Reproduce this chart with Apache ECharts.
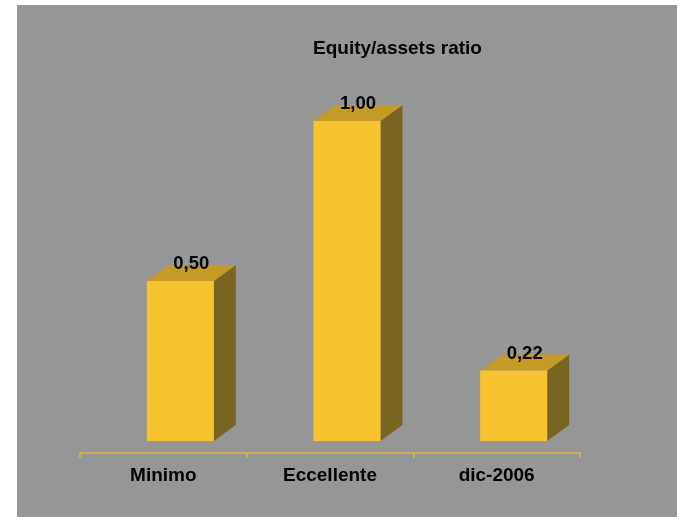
<!DOCTYPE html>
<html>
<head>
<meta charset="utf-8">
<script src="https://cdn.jsdelivr.net/npm/echarts@6/dist/echarts.min.js"></script>
<style>
html,body{margin:0;padding:0;background:#ffffff;}
#chart{width:677px;height:517px;}
</style>
</head>
<body>
<div id="chart"></div>
<script>
const titleText = 'Equity/assets ratio';
const categories = ['Minimo', 'Eccellente', 'dic-2006'];
const values = [0.50, 1.00, 0.22];

const chart = echarts.init(document.getElementById('chart'));
const FONT = 'Liberation Sans, Arial, sans-serif';
const FRONT_COLOR = '#F8C330';
const TOP_COLOR = '#C49B27';
const SIDE_COLOR = '#7A6421';

function renderBar(params, api) {
  const idx = api.value(0);
  const v = api.value(1);
  const base = api.coord([idx, 0]);
  const topPt = api.coord([idx, v]);
  const shiftY = -12;                // floor offset of bars vs axis line
  const w = 67;                      // front face width
  const dx = 22, dy = -16;           // depth
  const left = base[0] - 16.5;
  const right = left + w;
  const bottom = base[1] + shiftY;
  const top = topPt[1] + shiftY;
  return {
    type: 'group',
    children: [
      { type: 'polygon', shape: { points: [[right, top], [right + dx, top + dy], [right + dx, bottom + dy], [right, bottom]] }, style: { fill: SIDE_COLOR } },
      { type: 'polygon', shape: { points: [[left, top], [left + dx, top + dy], [right + dx, top + dy], [right, top]] }, style: { fill: TOP_COLOR } },
      { type: 'rect', shape: { x: left, y: top, width: w, height: bottom - top }, style: { fill: FRONT_COLOR } },
      { type: 'text', style: { x: (left + right) / 2 + dx / 2, y: top - 17, text: v.toFixed(2).replace('.', ','), fill: '#000', font: 'bold 18.5px ' + FONT, align: 'center', verticalAlign: 'middle' } }
    ]
  };
}

chart.setOption({
  backgroundColor: '#ffffff',
  animation: false,
  graphic: [{ type: 'rect', shape: { x: 17, y: 5, width: 660, height: 512 }, style: { fill: '#969696' }, z: -10, silent: true }],
  title: {
    text: titleText, left: 313, top: 39, padding: 0,
    textStyle: { fontFamily: FONT, fontWeight: 'bold', fontSize: 19, color: '#000' }
  },
  grid: { left: 80, right: 97, top: 133, bottom: 64 },
  xAxis: {
    type: 'category', data: categories,
    axisLine: { show: true, lineStyle: { color: '#DDB846', width: 1.5 } },
    axisTick: { show: true, length: 5, lineStyle: { color: '#DDB846', width: 1.5 } },
    axisLabel: { color: '#000', fontFamily: FONT, fontWeight: 'bold', fontSize: 19, margin: 13 }
  },
  yAxis: { type: 'value', min: 0, max: 1, show: false, splitLine: { show: false } },
  series: [{
    type: 'custom',
    renderItem: renderBar,
    data: values.map((v, i) => [i, v]),
    clip: false
  }]
});
</script>
</body>
</html>
